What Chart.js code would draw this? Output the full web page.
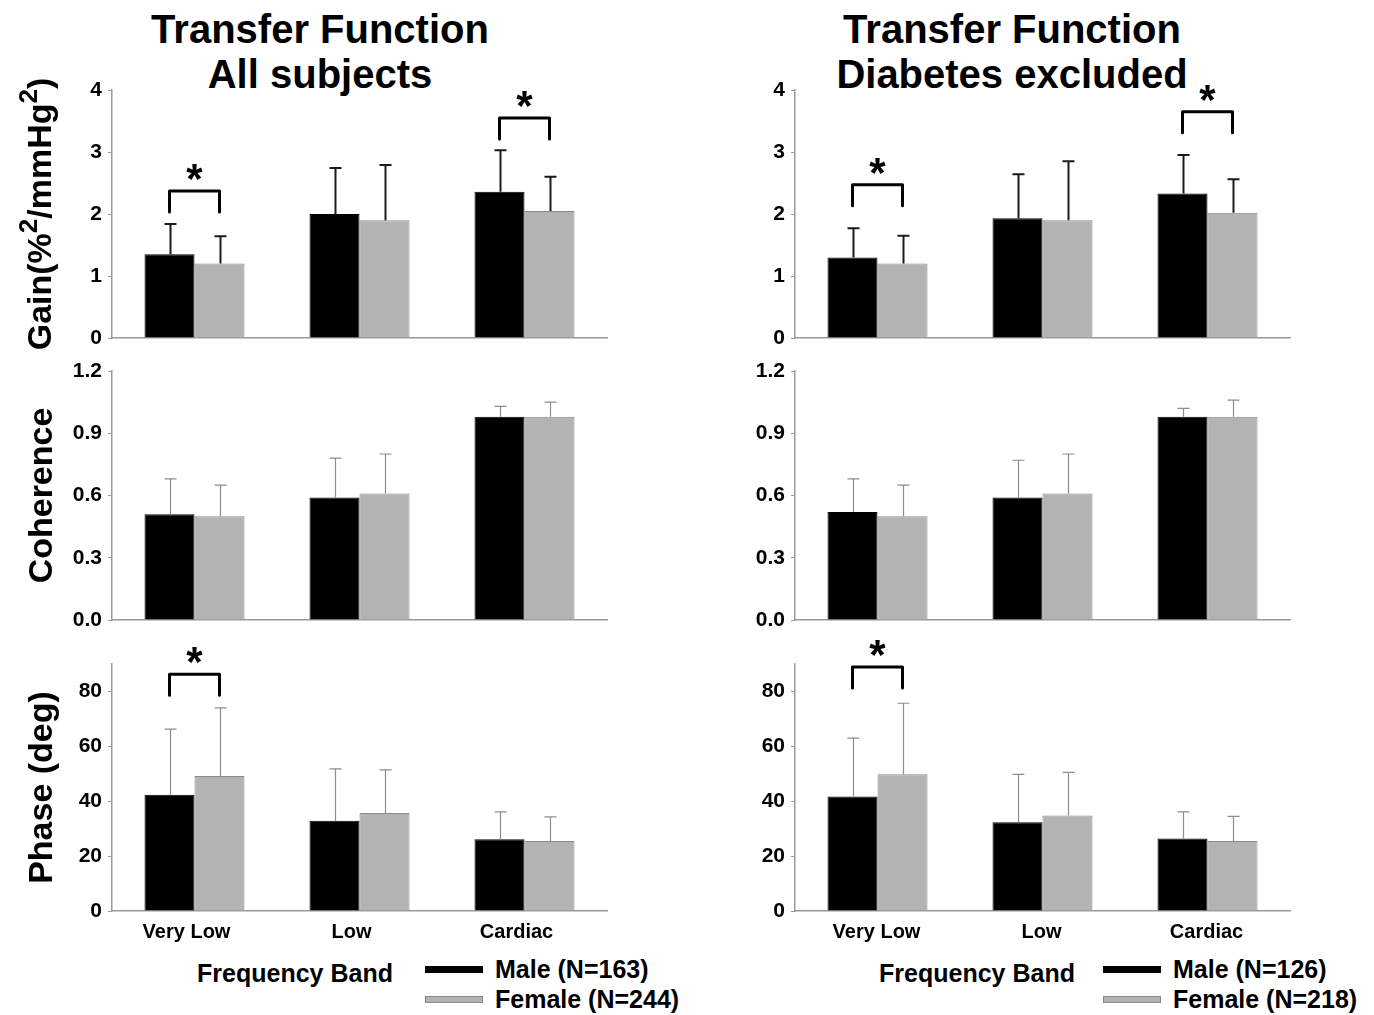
<!DOCTYPE html>
<html>
<head>
<meta charset="utf-8">
<title>Transfer Function by Sex</title>
<script src="https://cdn.jsdelivr.net/npm/chart.js@4/dist/chart.umd.min.js"></script>
<style>
  html, body { margin: 0; padding: 0; background: #fff; }
  body { width: 1374px; height: 1015px; position: relative; overflow: hidden;
         font-family: "Liberation Sans", Arial, sans-serif; color: #000; }
  canvas { position: absolute; }
  .title { position: absolute; font-weight: bold; font-size: 40px; line-height: 45px;
           text-align: center; white-space: nowrap; }
  .xname { position: absolute; font-weight: bold; font-size: 25px; line-height: 30px;
           text-align: center; white-space: nowrap; }
  .legend { position: absolute; }
  .legend .row { height: 30px; display: flex; align-items: center; white-space: nowrap;
                 font-weight: bold; font-size: 25px; line-height: 30px; }
  .legend .swatch { width: 58px; height: 7px; box-sizing: border-box; margin-right: 12px; }
</style>
</head>
<body>
<div class="title" style="left:120px; top:7px; width:400px;">Transfer Function<br>All subjects</div>
<div class="title" style="left:812px; top:7px; width:400px;">Transfer Function<br>Diabetes excluded</div>

<script>
// ---- Data (mean and SD per frequency band) ----
const bands = ['Very Low', 'Low', 'Cardiac'];
const groupLabelsAll  = ['Male (N=163)', 'Female (N=244)'];
const groupLabelsExcl = ['Male (N=126)', 'Female (N=218)'];

// Gain (%^2/mmHg^2)
const gainAllMale     = [1.35, 2.00, 2.36];
const gainAllMaleSD   = [0.49, 0.74, 0.67];
const gainAllFemale   = [1.20, 1.90, 2.05];
const gainAllFemaleSD = [0.44, 0.89, 0.55];
const gainExclMale     = [1.30, 1.93, 2.33];
const gainExclMaleSD   = [0.47, 0.71, 0.62];
const gainExclFemale   = [1.20, 1.90, 2.02];
const gainExclFemaleSD = [0.45, 0.95, 0.54];

// Coherence
const cohAllMale     = [0.51, 0.59, 0.98];
const cohAllMaleSD   = [0.17, 0.19, 0.05];
const cohAllFemale   = [0.50, 0.61, 0.98];
const cohAllFemaleSD = [0.15, 0.19, 0.07];
const cohExclMale     = [0.52, 0.59, 0.98];
const cohExclMaleSD   = [0.16, 0.18, 0.04];
const cohExclFemale   = [0.50, 0.61, 0.98];
const cohExclFemaleSD = [0.15, 0.19, 0.08];

// Phase (deg)
const phaseAllMale     = [42.4, 32.9, 26.1];
const phaseAllMaleSD   = [23.9, 18.9, 10.0];
const phaseAllFemale   = [49.2, 35.7, 25.5];
const phaseAllFemaleSD = [24.8, 15.7, 8.8];
const phaseExclMale     = [41.7, 32.3, 26.4];
const phaseExclMaleSD   = [21.3, 17.5, 9.7];
const phaseExclFemale   = [49.8, 34.8, 25.5];
const phaseExclFemaleSD = [25.9, 15.7, 9.0];

// Significant male/female differences: band index and bracket level (axis units)
const gainAllSig   = [{ band: 0, level: 2.37 }, { band: 2, level: 3.55 }];
const gainExclSig  = [{ band: 0, level: 2.47 }, { band: 2, level: 3.65 }];
const phaseAllSig  = [{ band: 0, level: 86.3 }];
const phaseExclSig = [{ band: 0, level: 88.9 }];

// Axis names; the gain name carries superscript runs
const gainTitleRuns = [
  { text: 'Gain(%' }, { text: '2', sup: true }, { text: '/mmHg' }, { text: '2', sup: true }, { text: ')' }
];

// ---- Styling / layout ----
const FONT = '"Liberation Sans", Arial, sans-serif';
const MALE_COLOR = '#000000';
const FEMALE_COLOR = '#b3b3b3';
const FEMALE_BORDER = '#8a8a8a';
const AXIS_COLOR = '#9a9a9a';

const columns = [
  { left: 0,   width: 630, padRight: 23, axisW: 112, labels: groupLabelsAll,
    bandShift: -8, nameLeft: 195, legendLeft: 425 },
  { left: 683, width: 630, padRight: 23, axisW: 112, labels: groupLabelsExcl,
    bandShift: -1, nameLeft: 877, legendLeft: 1103 }
];
const rows = [
  { top: 60,  height: 298, padTop: 30, axisH: 20, yMax: 4,   step: 1,   decimals: 0,
    titleRuns: gainTitleRuns, errColor: '#1a1a1a', errWidth: 2 },
  { top: 345, height: 295, padTop: 26, axisH: 20, yMax: 1.2, step: 0.3, decimals: 1,
    title: 'Coherence', errColor: '#8c8c8c', errWidth: 1.2 },
  { top: 630, height: 321, padTop: 34, axisH: 40, yMax: 90,  step: 20,  decimals: 0,
    title: 'Phase (deg)', errColor: '#8c8c8c', errWidth: 1.2, showBands: true }
];

const panels = [
  { col: 0, row: 0, male: gainAllMale,  maleSD: gainAllMaleSD,  female: gainAllFemale,  femaleSD: gainAllFemaleSD,  sig: gainAllSig },
  { col: 1, row: 0, male: gainExclMale, maleSD: gainExclMaleSD, female: gainExclFemale, femaleSD: gainExclFemaleSD, sig: gainExclSig },
  { col: 0, row: 1, male: cohAllMale,   maleSD: cohAllMaleSD,   female: cohAllFemale,   femaleSD: cohAllFemaleSD,   sig: [] },
  { col: 1, row: 1, male: cohExclMale,  maleSD: cohExclMaleSD,  female: cohExclFemale,  femaleSD: cohExclFemaleSD,  sig: [] },
  { col: 0, row: 2, male: phaseAllMale, maleSD: phaseAllMaleSD, female: phaseAllFemale, femaleSD: phaseAllFemaleSD, sig: phaseAllSig },
  { col: 1, row: 2, male: phaseExclMale, maleSD: phaseExclMaleSD, female: phaseExclFemale, femaleSD: phaseExclFemaleSD, sig: phaseExclSig }
];

// Upper error bars (mean + SD) with caps
const errorBarsPlugin = {
  id: 'errorBars',
  afterDatasetsDraw(chart, args, opts) {
    const ctx = chart.ctx;
    const yScale = chart.scales.y;
    ctx.save();
    ctx.strokeStyle = opts.color;
    ctx.lineWidth = opts.width;
    chart.data.datasets.forEach((ds, di) => {
      const meta = chart.getDatasetMeta(di);
      meta.data.forEach((bar, i) => {
        const x = Math.round(bar.x) + 0.5;
        const top = yScale.getPixelForValue(ds.data[i] + ds.errors[i]);
        ctx.beginPath();
        ctx.moveTo(x, bar.y);
        ctx.lineTo(x, top);
        ctx.moveTo(x - opts.cap / 2, top);
        ctx.lineTo(x + opts.cap / 2, top);
        ctx.stroke();
      });
    });
    ctx.restore();
  }
};

// Brackets with an asterisk joining the male and female bars of a band
const sigBracketPlugin = {
  id: 'sigBrackets',
  afterDatasetsDraw(chart, args, opts) {
    const items = opts.items || [];
    if (!items.length) return;
    const ctx = chart.ctx;
    const yScale = chart.scales.y;
    const maleMeta = chart.getDatasetMeta(0);
    const femaleMeta = chart.getDatasetMeta(1);
    ctx.save();
    ctx.strokeStyle = '#000';
    ctx.fillStyle = '#000';
    ctx.lineWidth = 3;
    ctx.lineJoin = 'round';
    ctx.lineCap = 'round';
    ctx.font = 'bold 42px ' + FONT;
    ctx.textAlign = 'center';
    const m = ctx.measureText('*');
    items.forEach(it => {
      const x1 = maleMeta.data[it.band].x;
      const x2 = femaleMeta.data[it.band].x;
      const yt = yScale.getPixelForValue(it.level);
      ctx.beginPath();
      ctx.moveTo(x1, yt + opts.leg);
      ctx.lineTo(x1, yt);
      ctx.lineTo(x2, yt);
      ctx.lineTo(x2, yt + opts.leg);
      ctx.stroke();
      const cy = yt - opts.starGap;
      const base = cy + (m.actualBoundingBoxAscent - m.actualBoundingBoxDescent) / 2;
      ctx.fillText('*', (x1 + x2) / 2, base);
    });
    ctx.restore();
  }
};

// Rotated axis name made of runs, some of them raised as superscripts
const richAxisTitlePlugin = {
  id: 'richAxisTitle',
  afterDraw(chart, args, opts) {
    const runs = opts.runs;
    if (!runs || !runs.length) return;
    const ctx = chart.ctx;
    const area = chart.chartArea;
    const mainFont = 'bold ' + opts.size + 'px ' + FONT;
    const supFont = 'bold ' + opts.supSize + 'px ' + FONT;
    ctx.save();
    let total = 0;
    const widths = runs.map(r => {
      ctx.font = r.sup ? supFont : mainFont;
      const w = ctx.measureText(r.text).width;
      total += w;
      return w;
    });
    ctx.translate(opts.x, (area.top + area.bottom) / 2);
    ctx.rotate(-Math.PI / 2);
    ctx.fillStyle = '#000';
    ctx.textAlign = 'left';
    ctx.textBaseline = 'middle';
    let pos = -total / 2;
    runs.forEach((r, i) => {
      ctx.font = r.sup ? supFont : mainFont;
      ctx.fillText(r.text, pos, r.sup ? -opts.raise : 0);
      pos += widths[i];
    });
    ctx.restore();
  }
};

panels.forEach(p => {
  const col = columns[p.col];
  const row = rows[p.row];
  const canvas = document.createElement('canvas');
  canvas.width = col.width;
  canvas.height = row.height;
  canvas.style.left = col.left + 'px';
  canvas.style.top = row.top + 'px';
  document.body.appendChild(canvas);

  const showTitle = p.col === 0;
  new Chart(canvas, {
    type: 'bar',
    data: {
      labels: bands,
      datasets: [
        { label: col.labels[0], data: p.male, errors: p.maleSD,
          backgroundColor: MALE_COLOR, borderColor: MALE_COLOR, borderWidth: 1 },
        { label: col.labels[1], data: p.female, errors: p.femaleSD,
          backgroundColor: FEMALE_COLOR, borderColor: FEMALE_BORDER, borderWidth: 1 }
      ]
    },
    options: {
      responsive: false,
      animation: false,
      events: [],
      datasets: { bar: { categoryPercentage: 100 / 165, barPercentage: 1.0 } },
      layout: { padding: { top: row.padTop, right: col.padRight, bottom: 0, left: 0 } },
      plugins: {
        legend: { display: false },
        tooltip: { enabled: false },
        errorBars: { color: row.errColor, width: row.errWidth, cap: 12 },
        sigBrackets: { items: p.sig, leg: 21, starGap: 19 },
        richAxisTitle: { runs: showTitle ? row.titleRuns : null, x: 42, size: 34, supSize: 26, raise: 12 }
      },
      scales: {
        x: {
          type: 'category',
          offset: true,
          grid: { display: false, drawTicks: false },
          border: { display: true, color: AXIS_COLOR, width: 1.5 },
          ticks: {
            display: !!row.showBands,
            color: '#000',
            padding: 9,
            labelOffset: col.bandShift,
            maxRotation: 0,
            font: { family: FONT, size: 20, weight: 'bold' }
          },
          afterFit(scale) { scale.height = row.axisH; }
        },
        y: {
          min: 0,
          max: row.yMax,
          grid: { display: true, drawOnChartArea: false, drawTicks: true, tickLength: 4,
                  color: AXIS_COLOR, lineWidth: 1 },
          border: { display: true, color: AXIS_COLOR, width: 1.5 },
          ticks: {
            stepSize: row.step,
            includeBounds: false,
            color: '#000',
            padding: 6,
            font: { family: FONT, size: 21, weight: 'bold' },
            callback: v => Number(v).toFixed(row.decimals)
          },
          title: {
            display: showTitle && !!row.title,
            text: row.title || '',
            color: '#000',
            font: { family: FONT, size: 34, weight: 'bold' },
            padding: { top: 22, bottom: 0 }
          },
          afterFit(scale) { scale.width = col.axisW; }
        }
      }
    },
    plugins: [errorBarsPlugin, sigBracketPlugin, richAxisTitlePlugin]
  });
});

// Axis name and legend under each phase panel
columns.forEach(col => {
  const name = document.createElement('div');
  name.className = 'xname';
  name.style.left = col.nameLeft + 'px';
  name.style.top = '958px';
  name.style.width = '200px';
  name.textContent = 'Frequency Band';
  document.body.appendChild(name);

  const legend = document.createElement('div');
  legend.className = 'legend';
  legend.style.left = col.legendLeft + 'px';
  legend.style.top = '954px';
  [[col.labels[0], MALE_COLOR, MALE_COLOR], [col.labels[1], FEMALE_COLOR, FEMALE_BORDER]]
    .forEach(([text, fill, border]) => {
      const rowEl = document.createElement('div');
      rowEl.className = 'row';
      const sw = document.createElement('span');
      sw.className = 'swatch';
      sw.style.background = fill;
      sw.style.border = '1px solid ' + border;
      const label = document.createElement('span');
      label.textContent = text;
      rowEl.appendChild(sw);
      rowEl.appendChild(label);
      legend.appendChild(rowEl);
    });
  document.body.appendChild(legend);
});
</script>
</body>
</html>
